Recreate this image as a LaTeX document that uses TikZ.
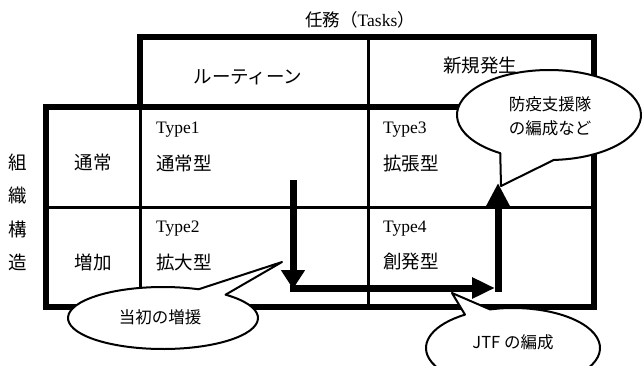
\documentclass[tikz,border=0pt]{standalone}
\usepackage{fontspec}
\setmainfont{Liberation Serif}
\newfontfamily\jp{Noto Sans CJK JP}
\usetikzlibrary{arrows.meta}
\begin{document}
\begin{tikzpicture}[x=1pt,y=-1pt,
  thickbox/.style={line width=6pt, line join=miter},
  thinline/.style={line width=3pt},
  flowarrow/.style={line width=7pt},
  callout/.style={draw, fill=white, line width=2pt, line join=round},
  jcell/.style={font=\jp\fontsize{18.5}{22}\selectfont, inner sep=0pt},
  tcell/.style={font=\fontsize{17.5}{20}\selectfont, inner sep=0pt},
  jcall/.style={font=\jp\fontsize{16.5}{24}\selectfont, inner sep=0pt, align=center},
]
\useasboundingbox (0,0) rectangle (643,365);
\clip (0,0) rectangle (643,365);

% table
\draw[thinline] (368,37) -- (368,307);
\draw[thinline] (46,207) -- (594,207);
\draw[thinline] (140,107) -- (140,307);
\draw[thickbox] (140,37) rectangle (594,107);
\draw[thickbox] (46,107) rectangle (594,307);

% headings
\node[inner sep=0pt, font=\fontsize{17.5}{20}\selectfont] (title) at (360,20) {{\jp 任務（}Tasks{\jp ）}};
\node[jcell] (routine) at (248,77) {ルーティーン};
\node[jcell] (newtask) at (480,66) {新規発生};
\node[jcell] (k1) at (18,162) {組};
\node[jcell] (k2) at (18,195.5) {織};
\node[jcell] (k3) at (18,229) {構};
\node[jcell] (k4) at (18,262) {造};
\node[jcell] (normal) at (93,162) {通常};
\node[jcell] (increase) at (93,262) {増加};

% cells
\node[tcell, anchor=west] (t1) at (156,130) {Type1};
\node[jcell, anchor=west] (n1) at (156,163) {通常型};
\node[tcell, anchor=west] (t2) at (156,229) {Type2};
\node[jcell, anchor=west] (n2) at (156,262) {拡大型};
\node[tcell, anchor=west] (t3) at (383,130) {Type3};
\node[jcell, anchor=west] (n3) at (383,163) {拡張型};
\node[tcell, anchor=west] (t4) at (383,229) {Type4};
\node[jcell, anchor=west] (n4) at (383,262) {創発型};

% arrows
\coordinate (d0) at (293,180);
\coordinate (d1) at (293,289);
\coordinate (r0) at (289.5,288);
\coordinate (r1) at (495,288);
\coordinate (u0) at (498,291.5);
\coordinate (u1) at (498,183);
\draw[flowarrow, -{Triangle[length=19pt, width=23pt]}] (d0) -- (d1);
\draw[flowarrow, -{Triangle[length=23pt, width=20pt]}] (r0) -- (r1);
\draw[flowarrow, -{Triangle[length=24pt, width=23pt]}] (u0) -- (u1);

% callouts
\coordinate (tipA) at (282,262);
\draw[callout] (163,318) ++(-48.8:95 and 31) arc[start angle=-48.8, end angle=292, x radius=95, y radius=31] -- (tipA) -- cycle;
\node[jcall] (ca) at (160,317) {当初の増援};

\coordinate (tipB) at (501,186);
\draw[callout] (549,115) ++(122:92 and 45) arc[start angle=122, end angle=447, x radius=92, y radius=45] -- (tipB) -- cycle;
\node[jcall] (cb) at (550,116) {防疫支援隊\\の編成など};

\coordinate (tipC) at (452,293);
\draw[callout] (513,348) ++(254.7:87 and 40) arc[start angle=254.7, end angle=596.5, x radius=87, y radius=40] -- (tipC) -- cycle;
\node[jcall] (cc) at (513,342) {JTF の編成};
\end{tikzpicture}
\end{document}
